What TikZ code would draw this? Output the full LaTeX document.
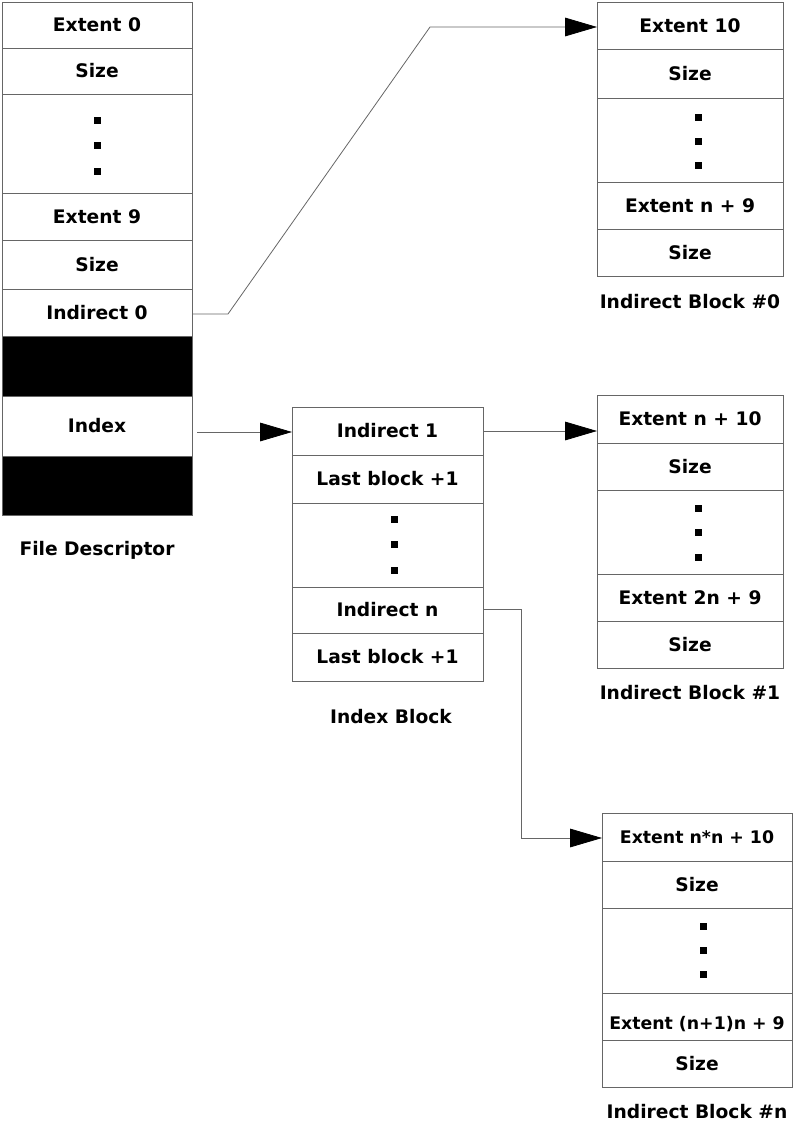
\documentclass[tikz,border=0pt]{standalone}
\usepackage{fontspec}
\setmainfont{DejaVu Sans}
\usetikzlibrary{arrows.meta}
\definecolor{rule}{rgb}{0.40,0.40,0.40}
% one cell of a block: name, x1, y1, x2, y2, text (coordinates in pixels)
\newcommand\blockcell[6]{%
  \node[cellbox, minimum width={(#4-#2)*0.75pt}, minimum height={(#5-#3)*0.75pt}]
    (#1) at ({(#2+#4)/2},{(#3+#5)/2}) {#6};}
% three square dots, centred at x, with the given y values
\newcommand\vdotsq[4]{%
  \foreach \yy in {#2,#3,#4} \fill (#1-3.5,\yy-3.5) rectangle (#1+3.5,\yy+3.5);}
% tighter setting for the longest cell texts
\newcommand\narrowtext{\fontsize{13}{15}\selectfont\bfseries}
\begin{document}
\begin{tikzpicture}[x=0.75pt, y=-0.75pt,
  font=\fontsize{14}{16}\selectfont\bfseries,
  cellbox/.style={draw=rule, line width=0.6pt, inner sep=0pt, outer sep=0pt},
  darkbox/.style={cellbox, fill=black},
  caption/.style={inner sep=0pt},
  link/.style={draw=rule, line width=0.6pt},
  pointer/.style={link, -{Triangle[length=24pt, width=14pt, fill=black, color=black]}}]
\useasboundingbox (0,0) rectangle (794,1124);

% File descriptor
\blockcell{fdA}{2}{2}{192}{48}{Extent 0}
\blockcell{fdB}{2}{48}{192}{94}{Size}
\blockcell{fdC}{2}{94}{192}{193}{}
\blockcell{fdD}{2}{193}{192}{240}{Extent 9}
\blockcell{fdE}{2}{240}{192}{289}{Size}
\blockcell{fdF}{2}{289}{192}{336}{Indirect 0}
\node[darkbox, minimum width={190*0.75pt}, minimum height={60*0.75pt}] (fdG) at (97,366) {};
\blockcell{fdH}{2}{396}{192}{456}{Index}
\node[darkbox, minimum width={190*0.75pt}, minimum height={59*0.75pt}] (fdI) at (97,485.5) {};
\vdotsq{97}{120}{145}{171}
\node[caption] (fdcap) at (97,550) {File Descriptor};

% Indirect block #0
\blockcell{ibA}{597}{2}{783}{49}{Extent 10}
\blockcell{ibB}{597}{49}{783}{98}{Size}
\blockcell{ibC}{597}{98}{783}{182}{}
\blockcell{ibD}{597}{182}{783}{229}{Extent n + 9}
\blockcell{ibE}{597}{229}{783}{276}{Size}
\vdotsq{698}{117}{141}{165}
\node[caption] (ibcap) at (690,302) {Indirect Block \#0};

% Index block
\blockcell{ixA}{292}{407}{483}{455}{Indirect 1}
\blockcell{ixB}{292}{455}{483}{503}{Last block +1}
\blockcell{ixC}{292}{503}{483}{587}{}
\blockcell{ixD}{292}{587}{483}{633}{Indirect n}
\blockcell{ixE}{292}{633}{483}{681}{Last block +1}
\vdotsq{394}{519}{544}{570}
\node[caption] (ixcap) at (391,717) {Index Block};

% Indirect block #1
\blockcell{jbA}{597}{395}{783}{443}{Extent n + 10}
\blockcell{jbB}{597}{443}{783}{490}{Size}
\blockcell{jbC}{597}{490}{783}{574}{}
\blockcell{jbD}{597}{574}{783}{621}{Extent 2n + 9}
\blockcell{jbE}{597}{621}{783}{668}{Size}
\vdotsq{698}{508}{532}{557}
\node[caption] (jbcap) at (690,693) {Indirect Block \#1};

% Indirect block #n
\blockcell{kbA}{602}{813}{792}{861}{\narrowtext Extent n*n + 10}
\blockcell{kbB}{602}{861}{792}{908}{Size}
\blockcell{kbC}{602}{908}{792}{993}{}
\blockcell{kbD}{602}{993}{792}{1040}{\narrowtext\raisebox{-6pt}[\height][\depth]{Extent (n+1)n + 9}}
\blockcell{kbE}{602}{1040}{792}{1087}{Size}
\vdotsq{703}{926}{950}{974}
\node[caption] (kbcap) at (697,1112) {Indirect Block \#n};

% Pointers between blocks
\coordinate (b0) at (228,314);
\coordinate (b1) at (430,27);
\draw[pointer] (fdF.east |- b0) -- (b0) -- (b1) -- (b1 -| ibA.west);
\draw[pointer] ([xshift=3.75pt,yshift=-4.5pt]fdH.east) -- ([yshift=-4.5pt]fdH.east -| ixA.west);
\draw[pointer] (ixA.east) -- (ixA.east -| jbA.west);
\coordinate (c0) at (521,609);
\coordinate (c1) at (521,838);
\draw[pointer] (ixD.east |- c0) -- (c0) -- (c1) -- (c1 -| kbA.west);
\end{tikzpicture}
\end{document}
